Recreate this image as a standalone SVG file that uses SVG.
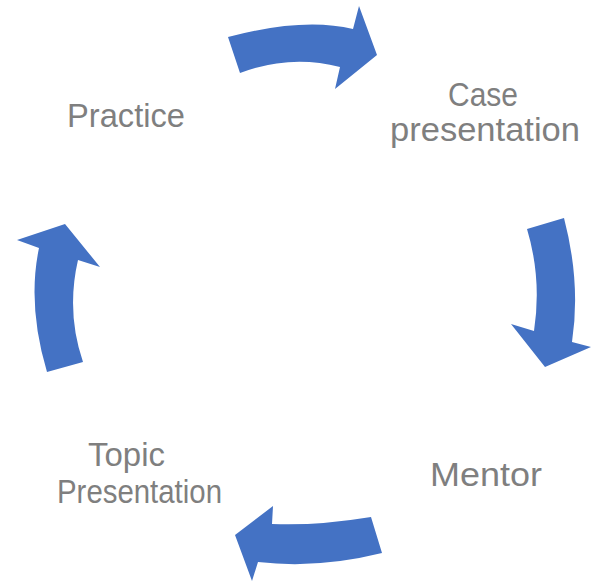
<svg xmlns="http://www.w3.org/2000/svg" width="591" height="582" viewBox="0 0 591 582">
<style>
.arr{fill:#4472c4;stroke:none}
.lbl{font-family:"Liberation Sans",Arial,sans-serif;font-size:32.5px;fill:#7f7f7f}
</style>
<rect width="591" height="582" fill="#ffffff"/>
<g id="connectors">
<path class="arr" d="M228,37 Q303.5,17 353,29 L359,6 L377,55 L335,89 L340,67 Q290,54 240,73 Z"/>
<path class="arr" d="M527,229 L564,218 Q581,283 572,342 L591,347 L545,367 L511,324 L534,331 Q542,279 527,229 Z"/>
<path class="arr" d="M371,517 L382,553 Q318,569 258,562 L252,581 L235,535 L273,506 L272,524 Q316,526 371,517 Z"/>
<path class="arr" d="M65,224 L100,267 L78,260 Q66,312 83,362 L47,372 Q27,305 39,248 L17,240 Z"/>
</g>
<g id="practice"><text class="lbl" x="67" y="127" textLength="118" lengthAdjust="spacingAndGlyphs">Practice</text></g>
<g id="case-presentation">
<text class="lbl" x="448" y="106" textLength="70" lengthAdjust="spacingAndGlyphs">Case</text>
<text class="lbl" x="390" y="141" textLength="190" lengthAdjust="spacingAndGlyphs">presentation</text>
</g>
<g id="mentor"><text class="lbl" x="430" y="486" textLength="112" lengthAdjust="spacingAndGlyphs">Mentor</text></g>
<g id="topic-presentation">
<text class="lbl" x="88" y="466" textLength="77" lengthAdjust="spacingAndGlyphs">Topic</text>
<text class="lbl" x="57" y="503" textLength="165" lengthAdjust="spacingAndGlyphs">Presentation</text>
</g>
</svg>
